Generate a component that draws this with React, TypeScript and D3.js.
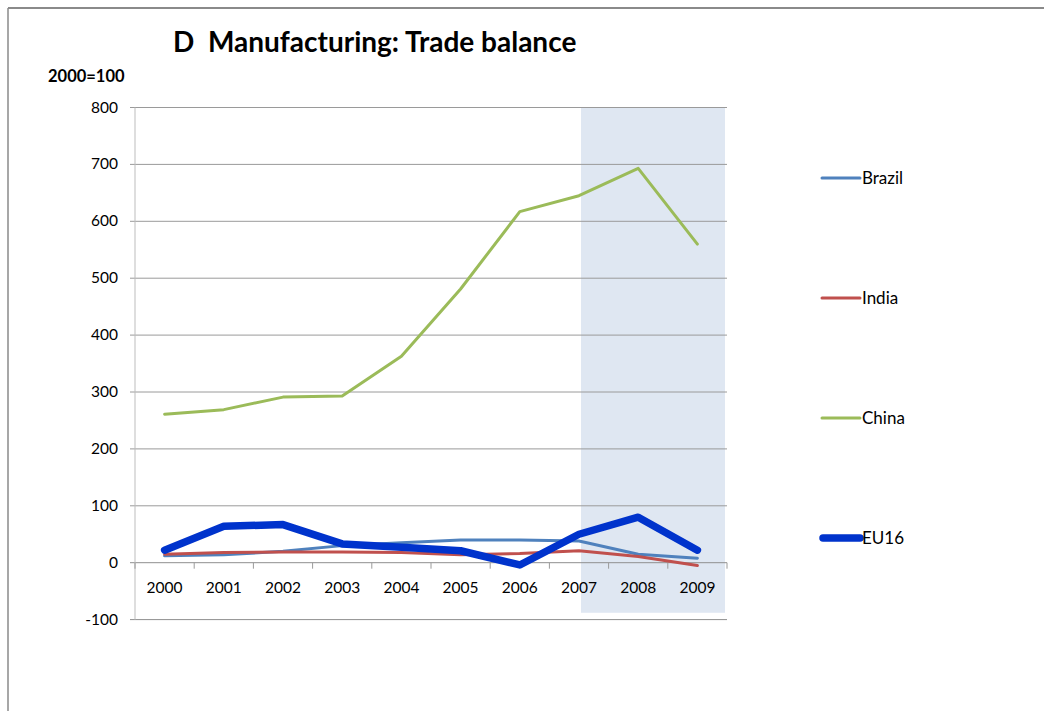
import React from "react";
import * as d3 from "d3";

const years = ["2000", "2001", "2002", "2003", "2004", "2005", "2006", "2007", "2008", "2009"];
const brazil = [12, 14, 20, 30, 35, 40, 40, 38, 15, 8];
const india = [15, 18, 19, 19, 18, 14, 16, 21, 11, -5];
const china = [261, 269, 291, 293, 363, 481, 617, 645, 693, 560];
const eu16 = [22, 64, 67, 33, 27, 21, -4, 50, 80, 22];
const yTicks = [-100, 0, 100, 200, 300, 400, 500, 600, 700, 800];
const shadeFrom = "2007";

const series = [
  { name: "Brazil", values: brazil, color: "#4f81bd", width: 3 },
  { name: "India", values: india, color: "#c0504d", width: 3 },
  { name: "China", values: china, color: "#9bbb59", width: 3 },
  { name: "EU16", values: eu16, color: "#0033cc", width: 7.5 },
];

const FONT = "Lato, 'Open Sans', sans-serif";

export default function App() {
  const left = 135;
  const right = 727;
  const x = d3.scaleBand<string>().domain(years).range([left, right]);
  const y = d3.scaleLinear().domain([-100, 800]).range([619.6, 107.5]);
  const cx = (yr: string) => (x(yr) as number) + x.bandwidth() / 2;

  const line = d3
    .line<number>()
    .x((_, i) => cx(years[i]))
    .y((v) => y(v));

  const legendY = [178, 298, 418, 538];

  return (
    <svg
      width={1044}
      height={711}
      style={{ position: "absolute", left: 0, top: 0, background: "#fff" }}
      fontFamily={FONT}
    >
      {/* frame */}
      <line x1={8} x2={1044} y1={8} y2={8} stroke="#8a8a8a" strokeWidth={2} />
      <line x1={8} x2={8} y1={8} y2={711} stroke="#8a8a8a" strokeWidth={1.5} />

      {/* title */}
      <text x={173} y={52} fontSize={28} fontWeight="bold" fill="#000" style={{ whiteSpace: "pre" }}>
        {"D  Manufacturing: Trade balance"}
      </text>
      <text x={48} y={82} fontSize={16.5} fontWeight="bold" fill="#000">
        2000=100
      </text>

      {/* shaded period */}
      <rect
        x={cx(shadeFrom) + 2}
        y={y(800)}
        width={right - 2 - (cx(shadeFrom) + 2)}
        height={y(-88) - y(800)}
        fill="#dfe7f2"
      />

      {/* horizontal gridlines */}
      {yTicks.map((t) => (
        <g key={t}>
          <line
            x1={left - 5}
            x2={right}
            y1={y(t)}
            y2={y(t)}
            stroke={t === 0 || t === -100 ? "#8f8f8f" : "#9a9a9a"}
            strokeWidth={1}
          />
          <text x={118} y={y(t) + 5} fontSize={15.5} textAnchor="end" fill="#000">
            {t}
          </text>
        </g>
      ))}

      {/* y axis */}
      <line x1={left} x2={left} y1={y(800)} y2={y(-100)} stroke="#bdbdbd" strokeWidth={1} />

      {/* category ticks on the zero line */}
      {years.map((yr) => (
        <line
          key={"t" + yr}
          x1={x(yr) as number}
          x2={x(yr) as number}
          y1={y(0)}
          y2={y(0) + 6}
          stroke="#9a9a9a"
        />
      ))}
      <line x1={right} x2={right} y1={y(0)} y2={y(0) + 6} stroke="#9a9a9a" />
      {years.map((yr) => (
        <text key={"l" + yr} x={cx(yr)} y={593} fontSize={15.5} textAnchor="middle" fill="#000">
          {yr}
        </text>
      ))}

      {/* series */}
      {series.map((s) => (
        <path
          key={s.name}
          d={line(s.values) as string}
          fill="none"
          stroke={s.color}
          strokeWidth={s.width}
          strokeLinejoin="round"
          strokeLinecap="round"
        />
      ))}

      {/* legend */}
      {series.map((s, i) => (
        <g key={"lg" + s.name}>
          <line
            x1={s.width > 4 ? 823 : 822}
            x2={860}
            y1={legendY[i]}
            y2={legendY[i]}
            stroke={s.color}
            strokeWidth={s.width}
            strokeLinecap="round"
          />
          <text x={862} y={legendY[i] + 6} fontSize={17} fill="#000">
            {s.name}
          </text>
        </g>
      ))}
    </svg>
  );
}
